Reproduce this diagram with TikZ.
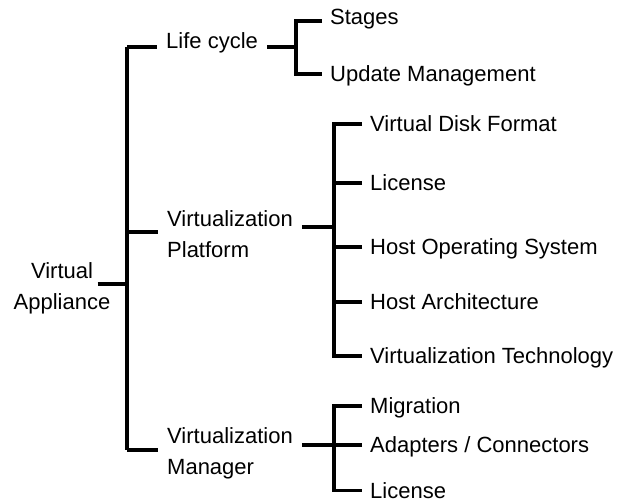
\documentclass[tikz,border=0pt]{standalone}
\usepackage{fontspec}
\setmainfont{Liberation Sans}
\begin{document}
\begin{tikzpicture}[x=1pt,y=-1pt,
  tree/.style={line width=3.2pt, line cap=butt, line join=miter},
  txt/.style={font=\fontsize{22}{31}\selectfont, inner xsep=9pt, inner ysep=0pt},
  leaf/.style={txt, anchor=west, inner xsep=8pt, text height=15pt, text depth=0pt}]
\useasboundingbox (0,0) rectangle (618,502);

% root and first-level topics (base anchor sits on the last line)
\node[txt, align=center, inner xsep=0pt, anchor=base] (root) at (62,310) {Virtual\\Appliance};
\node[txt, anchor=base west] (lc) at (157,49) {Life cycle};
\node[txt, align=left, anchor=base west] (vp) at (158,258) {Virtualization\\Platform};
\node[txt, align=left, anchor=base west] (vm) at (158,474) {Virtualization\\Manager};

% leaves
\node[txt, anchor=base west, inner xsep=8pt] (stages) at (322,24.5) {Stages};
\node[leaf] (upd) at (322,74) {Update Management};
\node[leaf] (vdf) at (362,124) {Virtual Disk Format};
\node[leaf] (lic1) at (362,183) {License};
\node[leaf] (hos) at (362,247) {Host Operating System};
\node[leaf] (ha) at (362,302) {Host Architecture};
\node[leaf] (vt) at (362,356) {Virtualization Technology};
\node[leaf] (mig) at (362,406) {Migration};
\node[leaf] (adc) at (362,445) {Adapters / Connectors};
\node[leaf] (lic2) at (362,490.5) {License};

% junction points
\coordinate (ta) at (127,47);
\coordinate (tb) at (127,232);
\coordinate (tc) at (127,450);
\coordinate (tr) at (127,284);
\coordinate (j1) at (296,47);
\coordinate (j2) at (334,227);
\coordinate (j3) at (334,445);
\coordinate (ls) at (322,21);

% main trunk
\draw[tree] (ta) -- (tc);
\draw[tree] ([xshift=-13pt]root.east |- tr) -- (tr);
\draw[tree] (ta) -- (lc.west |- ta);
\draw[tree] (tb) -- (vp.west |- tb);
\draw[tree] (tc) -- (vm.west |- tc);

% life cycle branch
\draw[tree] (lc.east |- j1) -- (j1);
\draw[tree] (stages.west |- ls) -| (j1) |- (upd.west);

% virtualization platform branch
\draw[tree] (vp.east |- j2) -- (j2);
\draw[tree] (vdf.west) -| (j2) |- (vt.west);
\draw[tree] (lic1.west) -- (lic1.west -| j2);
\draw[tree] (hos.west) -- (hos.west -| j2);
\draw[tree] (ha.west) -- (ha.west -| j2);

% virtualization manager branch
\draw[tree] (vm.east |- j3) -- (j3);
\draw[tree] (mig.west) -| (j3) |- (lic2.west);
\draw[tree] (adc.west) -- (adc.west -| j3);
\end{tikzpicture}
\end{document}
